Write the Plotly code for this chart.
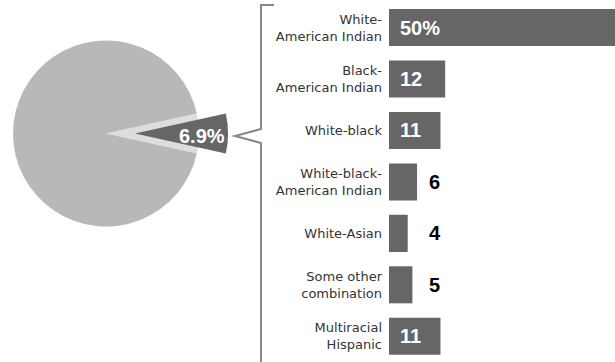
import plotly.graph_objects as go

# ---- data ----
multiracial_share = 6.9
other_share = round(100 - multiracial_share, 1)
categories = ["White-<br>American Indian", "Black-<br>American Indian", "White-black",
              "White-black-<br>American Indian", "White-Asian",
              "Some other<br>combination", "Multiracial<br>Hispanic"]
values = [50, 12, 11, 6, 4, 5, 11]
value_labels = ["50%", "12", "11", "6", "4", "5", "11"]

W, H = 615, 362
DARK = "#666666"
MID = "#b8b8b8"
LIGHT = "#dddddd"
FONT = "Liberation Sans, Arial, sans-serif"
LABEL_FONT = "DejaVu Sans, sans-serif"

def px_x(p):
    return p / W

def px_y(p):
    return 1 - p / H

fig = go.Figure()

# base pie (with empty slot for the pulled slice)
rot = 90 - multiracial_share * 360 / 100 / 2
fig.add_trace(go.Pie(
    values=[multiracial_share, other_share], sort=False, direction="clockwise",
    rotation=rot, marker=dict(colors=[LIGHT, MID], line=dict(width=0)),
    textinfo="none", hoverinfo="skip", showlegend=False,
    domain=dict(x=[px_x(13), px_x(199)], y=[px_y(226.5), px_y(40.5)]),
))
# pulled-out slice
fig.add_trace(go.Pie(
    values=[multiracial_share, other_share], sort=False, direction="clockwise",
    rotation=rot, marker=dict(colors=[DARK, "rgba(0,0,0,0)"], line=dict(width=0)),
    textinfo="none", hoverinfo="skip", showlegend=False,
    domain=dict(x=[px_x(42), px_x(228)], y=[px_y(226.5), px_y(40.5)]),
))

# bars
fig.add_trace(go.Bar(
    x=values, y=categories, orientation="h", width=0.72,
    marker=dict(color=DARK, line=dict(width=0)),
    hoverinfo="skip", showlegend=False,
))

annotations = [dict(
    x=px_x(202), y=px_y(136), xref="paper", yref="paper",
    text=f"<b>{multiracial_share}%</b>", showarrow=False,
    font=dict(family=FONT, size=20, color="white"),
    xanchor="center", yanchor="middle",
)]
for cat, v, lab in zip(categories, values, value_labels):
    inside = v >= 10
    annotations.append(dict(
        x=0, y=cat, xref="x", yref="y", text=f"<b>{lab}</b>", showarrow=False,
        xanchor="left", yanchor="middle", xshift=9 if inside else 38,
        font=dict(family=FONT, size=20, color="white" if inside else "black"),
    ))

bracket = (f"M {px_x(274)},{px_y(5)} L {px_x(261)},{px_y(5)} L {px_x(261)},{px_y(129)} "
           f"L {px_x(235)},{px_y(136)} L {px_x(261)},{px_y(143)} L {px_x(261)},{px_y(366)}")

fig.update_layout(
    width=W, height=H,
    margin=dict(l=0, r=0, t=0, b=0),
    paper_bgcolor="white", plot_bgcolor="white",
    xaxis=dict(domain=[px_x(389), 1], range=[0, 226 / 4.68], visible=False),
    yaxis=dict(domain=[0, 1 - 1.8 / H], range=[6.5, -0.5], showgrid=False,
               zeroline=False, showline=False, ticks="", ticklabelstandoff=6,
               tickfont=dict(family=LABEL_FONT, size=13, color="#333333")),
    annotations=annotations,
    shapes=[dict(type="path", path=bracket, xref="paper", yref="paper",
                 line=dict(color="#888888", width=2))],
)

fig.write_html("out.html")
